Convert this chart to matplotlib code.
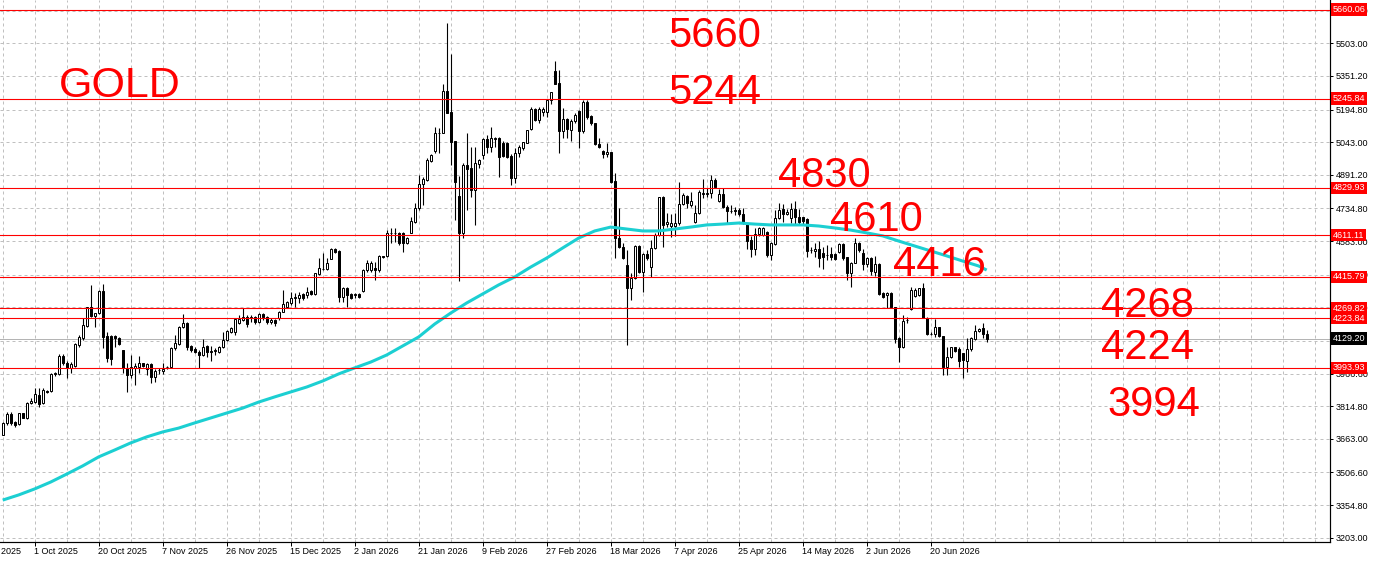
import matplotlib
matplotlib.use('Agg')  # no display
import matplotlib.pyplot as plt
import matplotlib.transforms as mtransforms

W, H = 1378, 561

# daily OHLC, one row per bar
opens = [3683, 3735, 3778, 3742, 3732, 3781, 3758, 3828, 3835, 3866,
         3828, 3887, 3887, 3963, 3963, 4048, 4014, 3991, 4003, 4099,
         4130, 4189, 4275, 4236, 4247, 4352, 4141, 4141, 4141, 4130,
         4076, 3991, 3960, 3991, 3999, 4014, 3986, 4009, 3952, 3983,
         3978, 3995, 3995, 4084, 4104, 4182, 4203, 4095, 4082, 4067,
         4053, 4095, 4068, 4073, 4068, 4088, 4123, 4161, 4161, 4200,
         4216, 4231, 4225, 4231, 4205, 4242, 4228, 4205, 4215, 4224,
         4255, 4278, 4297, 4320, 4317, 4337, 4332, 4351, 4337, 4430,
         4451, 4453, 4501, 4544, 4538, 4324, 4363, 4337, 4332, 4337,
         4352, 4448, 4448, 4456, 4448, 4513, 4513, 4620, 4620, 4622,
         4619, 4572, 4622, 4673, 4735, 4849, 4867, 4957, 5004, 5085,
         5087, 5281, 5182, 5048, 4793, 4619, 4937, 4921, 4821, 4942,
         4983, 5056, 5019, 5058, 5064, 5041, 5041, 4979, 4878, 4994,
         5014, 5041, 5104, 5197, 5146, 5185, 5185, 5239, 5374, 5317,
         5097, 5149, 5100, 5142, 5188, 5097, 5228, 5165, 5131, 5035,
         5002, 4987, 4996, 4862, 4596, 4554, 4472, 4363, 4409, 4560,
         4441, 4521, 4464, 4549, 4611, 4786, 4662, 4653, 4655, 4665,
         4755, 4793, 4751, 4673, 4712, 4800, 4800, 4805, 4867, 4771,
         4802, 4743, 4723, 4727, 4727, 4707, 4665, 4588, 4544, 4616,
         4611, 4627, 4518, 4569, 4689, 4730, 4709, 4689, 4730, 4693,
         4693, 4684, 4540, 4538, 4544, 4526, 4518, 4523, 4521, 4534,
         4568, 4507, 4436, 4479, 4572, 4526, 4476, 4503, 4441, 4476,
         4340, 4332, 4343, 4275, 4130, 4089, 4214, 4265, 4329, 4332,
         4363, 4223, 4149, 4150, 4181, 4141, 3999, 4042, 4092, 4079,
         4061, 4026, 4079, 4126, 4164, 4177, 4149]
highs = [3742, 3789, 3789, 3747, 3784, 3784, 3834, 3851, 3898, 3898,
         3898, 3890, 3968, 3975, 4056, 4057, 4025, 4022, 4107, 4146,
         4224, 4275, 4379, 4247, 4355, 4382, 4158, 4146, 4146, 4138,
         4076, 4014, 4053, 4014, 4048, 4017, 4014, 4014, 3986, 3991,
         4017, 4002, 4089, 4146, 4188, 4244, 4208, 4099, 4088, 4076,
         4127, 4099, 4095, 4087, 4095, 4161, 4169, 4182, 4224, 4240,
         4270, 4240, 4240, 4236, 4250, 4248, 4235, 4225, 4222, 4258,
         4355, 4306, 4347, 4340, 4347, 4343, 4371, 4355, 4436, 4503,
         4526, 4503, 4549, 4549, 4541, 4371, 4371, 4343, 4340, 4340,
         4451, 4495, 4492, 4487, 4518, 4515, 4634, 4642, 4642, 4627,
         4627, 4600, 4697, 4759, 4890, 4883, 4968, 4988, 5115, 5107,
         5314, 5596, 5453, 5048, 4886, 4948, 5087, 5022, 5022, 4963,
         5061, 5076, 5115, 5069, 5069, 5050, 5044, 4987, 5014, 5030,
         5045, 5100, 5205, 5202, 5208, 5208, 5242, 5278, 5421, 5379,
         5201, 5154, 5149, 5177, 5193, 5239, 5239, 5170, 5131, 5061,
         5007, 5041, 4999, 4898, 4735, 4573, 4541, 4433, 4565, 4565,
         4526, 4541, 4588, 4619, 4789, 4793, 4712, 4709, 4712, 4856,
         4805, 4797, 4813, 4751, 4820, 4870, 4831, 4890, 4875, 4825,
         4828, 4751, 4751, 4743, 4735, 4735, 4668, 4606, 4642, 4650,
         4650, 4631, 4580, 4727, 4762, 4754, 4730, 4758, 4771, 4730,
         4696, 4689, 4554, 4572, 4585, 4557, 4565, 4557, 4526, 4572,
         4572, 4507, 4487, 4596, 4580, 4544, 4507, 4510, 4513, 4479,
         4347, 4347, 4347, 4278, 4138, 4239, 4228, 4371, 4363, 4366,
         4386, 4231, 4161, 4219, 4181, 4141, 4092, 4092, 4092, 4089,
         4064, 4130, 4138, 4192, 4177, 4200, 4169]
lows = [3679, 3727, 3727, 3716, 3727, 3758, 3755, 3823, 3831, 3812,
        3823, 3875, 3882, 3955, 3960, 4006, 3944, 3971, 3999, 4089,
        4123, 4182, 4231, 4185, 4245, 4084, 4022, 4006, 4092, 4099,
        3971, 3882, 3944, 3913, 3968, 3995, 3960, 3924, 3929, 3964,
        3964, 3989, 3991, 4076, 4099, 4177, 4076, 4068, 4064, 3994,
        4048, 4045, 4026, 4053, 4061, 4084, 4118, 4154, 4146, 4195,
        4210, 4185, 4205, 4195, 4200, 4215, 4195, 4195, 4190, 4218,
        4252, 4272, 4286, 4278, 4294, 4309, 4317, 4332, 4332, 4425,
        4448, 4448, 4498, 4527, 4301, 4301, 4275, 4312, 4317, 4317,
        4347, 4440, 4440, 4402, 4440, 4503, 4510, 4572, 4580, 4565,
        4534, 4568, 4619, 4666, 4727, 4751, 4864, 4952, 4991, 4991,
        5084, 5177, 4937, 4681, 4399, 4596, 4728, 4787, 4658, 4921,
        4963, 4991, 4999, 5019, 4883, 4976, 4971, 4844, 4852, 4976,
        5007, 5038, 5100, 5143, 5131, 5165, 5162, 5221, 5314, 4994,
        5061, 5061, 5050, 5134, 5014, 5087, 5149, 5123, 5030, 5014,
        4968, 4976, 4855, 4503, 4549, 4500, 4099, 4309, 4405, 4433,
        4347, 4495, 4417, 4544, 4606, 4554, 4650, 4600, 4606, 4658,
        4751, 4735, 4743, 4668, 4709, 4782, 4789, 4782, 4828, 4766,
        4735, 4662, 4712, 4704, 4699, 4662, 4544, 4507, 4518, 4606,
        4606, 4510, 4495, 4565, 4684, 4670, 4704, 4665, 4658, 4662,
        4662, 4510, 4526, 4510, 4464, 4451, 4495, 4495, 4495, 4526,
        4495, 4402, 4371, 4479, 4534, 4448, 4464, 4425, 4422, 4332,
        4316, 4270, 4270, 4110, 4022, 4084, 4200, 4262, 4324, 4327,
        4223, 4146, 4146, 4138, 4135, 3960, 3960, 4037, 4068, 3999,
        3944, 3975, 4073, 4123, 4161, 4133, 4115]
closes = [3735, 3778, 3738, 3727, 3781, 3761, 3831, 3839, 3870, 3825,
          3890, 3879, 3963, 3968, 4048, 4014, 3991, 4009, 4104, 4135,
          4192, 4275, 4236, 4247, 4352, 4138, 4037, 4033, 4130, 4104,
          3991, 3960, 3999, 4001, 4017, 4001, 4009, 3952, 3980, 3985,
          3989, 3997, 4084, 4107, 4182, 4203, 4092, 4076, 4068, 4053,
          4092, 4068, 4073, 4074, 4088, 4123, 4165, 4177, 4219, 4219,
          4231, 4195, 4231, 4205, 4242, 4228, 4205, 4215, 4200, 4255,
          4289, 4301, 4317, 4322, 4332, 4320, 4347, 4335, 4433, 4456,
          4453, 4479, 4544, 4532, 4324, 4363, 4332, 4317, 4335, 4324,
          4448, 4479, 4483, 4448, 4513, 4507, 4622, 4622, 4622, 4572,
          4572, 4596, 4676, 4735, 4848, 4870, 4960, 4983, 5087, 5087,
          5281, 5180, 5045, 4859, 4619, 4937, 4917, 4821, 4945, 4960,
          5056, 5019, 5061, 5064, 4976, 4979, 4976, 4878, 4994, 5019,
          5044, 5100, 5197, 5146, 5197, 5197, 5239, 5275, 5314, 5097,
          5149, 5103, 5142, 5170, 5097, 5228, 5162, 5131, 5033, 5022,
          4987, 4996, 4859, 4596, 4554, 4503, 4363, 4409, 4560, 4441,
          4521, 4503, 4549, 4611, 4786, 4658, 4673, 4665, 4665, 4755,
          4797, 4758, 4771, 4712, 4810, 4805, 4805, 4867, 4836, 4802,
          4743, 4724, 4725, 4723, 4707, 4665, 4585, 4544, 4616, 4642,
          4642, 4518, 4572, 4689, 4727, 4709, 4720, 4730, 4693, 4673,
          4678, 4538, 4541, 4544, 4503, 4507, 4519, 4510, 4499, 4568,
          4503, 4436, 4479, 4572, 4541, 4476, 4503, 4444, 4476, 4337,
          4324, 4343, 4275, 4126, 4089, 4212, 4216, 4355, 4355, 4363,
          4223, 4150, 4151, 4181, 4141, 3995, 4042, 4089, 4073, 4026,
          4030, 4079, 4130, 4164, 4174, 4149, 4129.20]

# moving average (cyan), read every 4 bars
ma_bars = list(range(0, 245, 4)) + [246]
ma_values = [3378, 3402, 3430, 3462, 3499, 3537, 3579, 3611, 3644, 3672,
             3695, 3713, 3737, 3760, 3783, 3806, 3834, 3858, 3881, 3904,
             3932, 3965, 3993, 4020, 4053, 4095, 4137, 4197, 4248, 4295,
             4337, 4379, 4416, 4462, 4504, 4551, 4597, 4630, 4648, 4639,
             4630, 4630, 4639, 4648, 4658, 4662, 4667, 4662, 4658, 4658,
             4658, 4653, 4644, 4634, 4621, 4607, 4583, 4560, 4537, 4514,
             4490, 4467, 4448]

# horizontal levels
levels = [5660.06, 5245.84, 4829.93, 4611.11, 4415.79, 4269.82, 4223.84, 3993.93]
last_price = 4129.20

# price scale
price_ticks = [3203.00, 3354.80, 3506.60, 3663.00, 3814.80, 3966.60, 4118.40,
               4274.80, 4426.60, 4583.00, 4734.80, 4891.20, 5043.00, 5194.80,
               5351.20, 5503.00, 5654.80]

# date scale, one label every 16 bars
date_bars = [-8, 8, 24, 40, 56, 72, 88, 104, 120, 136, 152, 168, 184, 200, 216, 232]
date_labels = ['12 Sep 2025', '1 Oct 2025', '20 Oct 2025', '7 Nov 2025', '26 Nov 2025',
               '15 Dec 2025', '2 Jan 2026', '21 Jan 2026', '9 Feb 2026', '27 Feb 2026',
               '18 Mar 2026', '7 Apr 2026', '25 Apr 2026', '14 May 2026', '2 Jun 2026',
               '20 Jun 2026']

title = 'GOLD'
notes = ['5660', '5244', '4830', '4610', '4416', '4268', '4224', '3994']
# pixel positions (left, baseline) of the notes
note_pos = [(668, 47), (668, 104), (778, 187), (830, 231), (893, 276),
            (1101, 317), (1101, 359), (1107, 416)]

plt.rcParams['font.family'] = ['Liberation Sans', 'DejaVu Sans']

fig = plt.figure(figsize=(W / 100, H / 100), dpi=100)
fig.patch.set_facecolor('white')
ax_bottom = 542
ax_right = 1329.5
ax = fig.add_axes([0, 1 - ax_bottom / H, ax_right / W, ax_bottom / H])
ax.set_ylim(3183.0, 5704.4)
ax.set_xlim(-0.675, 331.7)

px = 0.72  # one pixel in points

# grid
for b in range(0, 332, 8):
    ax.axvline(b, color='#C0C0C0', lw=px, ls=(0, (3, 3)), zorder=0)
for p in price_ticks:
    ax.axhline(p, color='#C0C0C0', lw=px, ls=(0, (3, 3)), zorder=0)

# candles
xs = list(range(len(closes)))
ax.vlines(xs, lows, highs, color='black', lw=px * 1.1, zorder=2)
for i in xs:
    o, c = opens[i], closes[i]
    bottom = min(o, c)
    height = max(abs(c - o), 0.5)
    fc = 'white' if c >= o else 'black'
    ax.bar(i, height, bottom=bottom, width=0.5, color=fc, edgecolor='black',
           linewidth=px, zorder=3)

# moving average
ax.plot(ma_bars, ma_values, color='#1CCFD2', lw=2.2, zorder=4,
        solid_joinstyle='round', solid_capstyle='butt')

# levels
for lv in levels:
    ax.axhline(lv, color='#FF0000', lw=px * 1.1, zorder=5)
ax.axhline(last_price, color='#B4B4B4', lw=px, zorder=1)

# axes look
for s in ['top', 'left']:
    ax.spines[s].set_visible(False)
for s in ['bottom', 'right']:
    ax.spines[s].set_linewidth(px * 1.2)
    ax.spines[s].set_color('black')

ax.yaxis.tick_right()
ax.set_yticks(price_ticks)
ax.set_yticklabels(['%.2f' % p for p in price_ticks])
ax.tick_params(axis='y', direction='out', length=2.5, width=px, pad=2,
               labelsize=6.5, colors='black')

ax.set_xticks([b for b in date_bars if b >= 0])
ax.set_xticklabels([])
ax.tick_params(axis='x', direction='out', length=3, width=px)

trans_x = mtransforms.blended_transform_factory(ax.transData, ax.transAxes)
for b, lab in zip(date_bars, date_labels):
    ax.text(b - 0.1, -10 / ax_bottom, lab, transform=trans_x, ha='left',
            va='center', fontsize=6.5, color='black', clip_on=False)

# price tags on the right scale
trans_y = mtransforms.blended_transform_factory(ax.transAxes, ax.transData)
tag_x = 1 + 3 / ax_right
for lv in levels:
    ax.text(tag_x, lv, '%.2f' % lv, transform=trans_y, ha='left', va='center',
            fontsize=6.5, color='white', clip_on=False, zorder=10,
            bbox=dict(boxstyle='square,pad=0.18', fc='#FF0000', ec='none'))
ax.text(tag_x, last_price, '%.2f' % last_price, transform=trans_y, ha='left',
        va='center', fontsize=6.5, color='white', clip_on=False, zorder=10,
        bbox=dict(boxstyle='square,pad=0.18', fc='black', ec='none'))

# big red notes
fig.text(59 / W, 1 - 97 / H, title, fontsize=31, color='#FF0000', va='baseline')
for t, (x, y) in zip(notes, note_pos):
    fig.text(x / W, 1 - y / H, t, fontsize=30, color='#FF0000', va='baseline')

fig.savefig('out.png', dpi=100, facecolor='white')
